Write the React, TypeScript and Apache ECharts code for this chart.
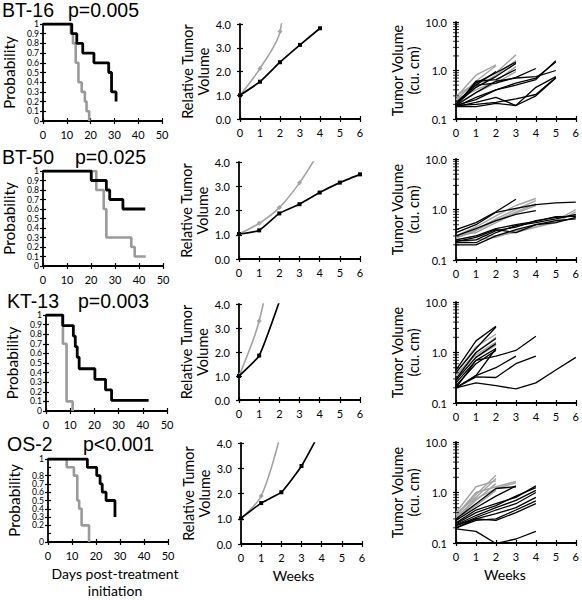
import React, { useEffect, useRef } from "react";
import * as echarts from "echarts";

// ---------------- Data ----------------
const panelNames = ["BT-16", "BT-50", "KT-13", "OS-2"];
const pValues = ["p=0.005", "p=0.025", "p=0.003", "p<0.001"];

// Kaplan-Meier step points [day, probability]
const bt16SurvTreated = [[0, 1], [12.1, 0.9], [14.2, 0.8], [16.7, 0.7], [21.4, 0.6], [27.6, 0.5], [28.8, 0.3], [30.7, 0.2]];
const bt16SurvControl = [[0, 1], [11.7, 0.9], [12.6, 0.8], [13.75, 0.6], [14.9, 0.4], [16.25, 0.3], [17.6, 0.2], [18.3, 0.1], [19.4, 0]];
const bt50SurvTreated = [[0, 1], [20.1, 0.9], [26.4, 0.8], [27.8, 0.7], [33.3, 0.6], [42.6, 0.6]];
const bt50SurvControl = [[0, 1], [22.2, 0.8], [25.3, 0.6], [26.4, 0.3], [36.8, 0.2], [38.2, 0.1], [42.8, 0.1]];
const kt13SurvTreated = [[0, 1], [6.9, 0.89], [11.3, 0.78], [12.1, 0.67], [12.9, 0.56], [13.7, 0.44], [20.2, 0.33], [24.6, 0.22], [27.1, 0.11], [42.4, 0.11]];
const kt13SurvControl = [[0, 1], [7.0, 0.7], [8.5, 0.1], [11.0, 0]];
const os2SurvTreated = [[0, 1], [16.4, 0.9], [20.3, 0.8], [21.7, 0.7], [22.6, 0.6], [24.2, 0.5], [27.9, 0.3]];
const os2SurvControl = [[0, 1], [7.8, 0.9], [10.8, 0.8], [12.2, 0.5], [13.0, 0.4], [14.0, 0.2], [17.1, 0]];

// Relative tumor volume by week (index = week)
const bt16RelTreated = [1.0, 1.57, 2.39, 3.12, 3.82];
const bt16RelControl = [1.0, 2.13, 3.68, 10.5];
const bt50RelTreated = [1.03, 1.18, 1.88, 2.26, 2.74, 3.15, 3.49];
const bt50RelControl = [1.03, 1.47, 2.12, 3.14, 4.45];
const kt13RelTreated = [1.0, 1.85, 4.1];
const kt13RelControl = [1.0, 3.29, 7.5];
const os2RelTreated = [1.02, 1.62, 2.05, 3.09, 4.56];
const os2RelControl = [1.02, 1.9, 4.46];

// Individual tumor volumes (cu. cm) by week (index = week)
const bt16VolControl = [
  [0.28, 0.8, 1.3],
  [0.25, 0.6, 1.25],
  [0.3, 0.55, 0.9, 2.1],
  [0.22, 0.45, 0.8, 1.6],
  [0.25, 0.4, 0.6, 1.2],
  [0.2, 0.35, 0.55, 0.95],
];
const bt16VolTreated = [
  [0.22, 0.5, 0.95],
  [0.2, 0.55, 0.9, 1.5],
  [0.2, 0.45, 0.75, 1.4],
  [0.19, 0.6, 0.65, 1.05],
  [0.2, 0.5, 0.55, 0.72, 1.1],
  [0.19, 0.35, 0.6, 0.7, 0.75, 1.0],
  [0.18, 0.28, 0.4, 0.55, 0.7, 1.5],
  [0.19, 0.25, 0.4, 0.5, 0.65, 1.6],
  [0.18, 0.22, 0.28, 0.19, 0.3, 0.7],
  [0.18, 0.18, 0.21, 0.19, 0.45, 0.75],
  [0.19, 0.2, 0.22, 0.26, 0.32, 0.72],
];
const bt50VolControl = [
  [0.3, 0.45, 0.75, 1.2, 1.65],
  [0.28, 0.4, 0.65, 1.0, 1.5],
  [0.27, 0.38, 0.6, 0.9, 1.3],
  [0.3, 0.35, 0.55, 0.85, 1.2],
  [0.25, 0.3, 0.3, 0.35, 0.45, 0.6, 1.0],
  [0.22, 0.25, 0.28, 0.38, 0.45, 0.55, 0.9],
];
const bt50VolTreated = [
  [0.4, 0.55, 0.9, 1.6],
  [0.35, 0.5, 0.88, 1.05, 1.25, 1.35, 1.4],
  [0.3, 0.42, 0.6, 0.8, 0.95],
  [0.24, 0.25, 0.38, 0.45, 0.6, 0.7, 0.75],
  [0.22, 0.22, 0.35, 0.48, 0.55, 0.65, 0.8],
  [0.2, 0.2, 0.3, 0.4, 0.5, 0.55, 0.7],
  [0.23, 0.28, 0.4, 0.35, 0.5, 0.6, 0.65],
  [0.25, 0.3, 0.42, 0.5, 0.58, 0.72, 0.73],
];
const kt13VolControl = [
  [0.4, 1.3, 2.3],
  [0.35, 1.0, 2.0],
  [0.35, 0.9, 1.6],
  [0.3, 0.8, 1.4],
];
const kt13VolTreated = [
  [0.45, 1.7, 3.3],
  [0.4, 1.2, 3.2],
  [0.3, 1.0, 1.9],
  [0.28, 0.8, 1.5],
  [0.25, 0.7, 1.2],
  [0.22, 0.6, 1.1],
  [0.2, 0.35, 1.2],
  [0.2, 0.7, 0.85, 1.1, 2.1],
  [0.2, 0.35, 0.5, 0.85],
  [0.2, 0.33, 0.32, 0.6, 0.85],
  [0.2, 0.25, 0.22, 0.19, 0.25, 0.45, 0.8],
];
const os2VolControl = [
  [0.4, 1.3, 1.7],
  [0.35, 0.9, 2.2],
  [0.38, 0.8, 1.9],
  [0.3, 0.7, 1.5],
  [0.3, 0.55, 1.1],
  [0.35, 1.0, 1.3, 1.65],
  [0.32, 0.75, 1.2, 1.55],
];
const os2VolTreated = [
  [0.3, 0.6, 1.2, 1.3],
  [0.28, 0.5, 0.85, 1.35],
  [0.25, 0.45, 0.6, 0.8, 1.35],
  [0.24, 0.4, 0.55, 0.85, 1.25],
  [0.23, 0.35, 0.5, 0.7, 1.1],
  [0.22, 0.32, 0.45, 0.6, 1.0],
  [0.22, 0.3, 0.38, 0.5, 0.8],
  [0.2, 0.28, 0.3, 0.45, 0.68],
  [0.2, 0.3, 0.28, 0.4, 0.6],
  [0.19, 0.17, 0.098, 0.12, 0.17],
];

const survTreated = [bt16SurvTreated, bt50SurvTreated, kt13SurvTreated, os2SurvTreated];
const survControl = [bt16SurvControl, bt50SurvControl, kt13SurvControl, os2SurvControl];
const relTreated = [bt16RelTreated, bt50RelTreated, kt13RelTreated, os2RelTreated];
const relControl = [bt16RelControl, bt50RelControl, kt13RelControl, os2RelControl];
const volTreated = [bt16VolTreated, bt50VolTreated, kt13VolTreated, os2VolTreated];
const volControl = [bt16VolControl, bt50VolControl, kt13VolControl, os2VolControl];

const logMinorTicks = [0.2, 0.3, 0.4, 0.5, 0.6, 0.7, 0.8, 0.9, 2, 3, 4, 5, 6, 7, 8, 9];

// ---------------- Layout ----------------
type Box = { left: number; top: number; width: number; height: number };
const survBoxes: Box[] = [
  { left: 42, top: 24, width: 120, height: 97 },
  { left: 43, top: 171, width: 120, height: 95 },
  { left: 46, top: 315, width: 121, height: 96 },
  { left: 48, top: 459, width: 120, height: 89 },
];
const relBoxes: Box[] = [
  { left: 240, top: 24, width: 120, height: 95 },
  { left: 239, top: 162, width: 121, height: 97 },
  { left: 239, top: 304, width: 121, height: 96 },
  { left: 241, top: 443, width: 121, height: 101 },
];
const volBoxes: Box[] = [
  { left: 456, top: 22, width: 121, height: 97 },
  { left: 456, top: 159, width: 121, height: 101 },
  { left: 456, top: 302, width: 121, height: 101 },
  { left: 456, top: 442, width: 122, height: 101 },
];
const titleRows = [
  { y: 9.5, nameX: 2, pX: 68 },
  { y: 156.8, nameX: 2, pX: 75 },
  { y: 300.8, nameX: 7, pX: 78 },
  { y: 443.5, nameX: 7, pX: 83 },
];

const FONT = "Lato, 'Open Sans', sans-serif";
const TITLE_FONT = "'Liberation Sans', Arial, sans-serif";
const BLACK = "#000";
const GREY_SURV = "#9a9a9a";
const GREY_LINE = "#a3a3a3";

function buildOption() {
  const grid: any[] = [];
  const xAxis: any[] = [];
  const yAxis: any[] = [];
  const series: any[] = [];
  const graphic: any[] = [];

  const tickStyle = { color: BLACK, width: 1.2 };

  function addGrid(box: Box, xCfg: any, yCfg: any, xExtra: any, yExtra: any, labelSize: number, yLabel: any) {
    const gi = grid.length;
    grid.push({ ...box });
    const xi = xAxis.length;
    xAxis.push({
      gridIndex: gi, position: "bottom", ...xCfg,
      axisLine: { show: true, lineStyle: { color: BLACK, width: 1.8 } },
      axisTick: { show: true, inside: false, length: 3, lineStyle: tickStyle },
      axisLabel: { color: BLACK, fontFamily: FONT, fontSize: labelSize, margin: 8, showMinLabel: true, showMaxLabel: true },
      splitLine: { show: false },
      ...xExtra,
    });
    xAxis.push({
      gridIndex: gi, position: "bottom", ...xCfg,
      axisLine: { show: false },
      axisTick: { show: true, inside: true, length: 3, lineStyle: tickStyle },
      axisLabel: { show: false },
      splitLine: { show: false },
    });
    const yi = yAxis.length;
    yAxis.push({
      gridIndex: gi, position: "left", ...yCfg,
      axisLine: { show: true, lineStyle: { color: BLACK, width: 1.8 } },
      axisTick: { show: true, inside: false, length: 3, lineStyle: tickStyle },
      splitLine: { show: false },
      ...yExtra,
      axisLabel: { color: BLACK, fontFamily: FONT, showMinLabel: true, showMaxLabel: true, hideOverlap: false, interval: 0, ...yLabel },
    });
    yAxis.push({
      gridIndex: gi, position: "left", ...yCfg,
      axisLine: { show: false },
      axisTick: { show: true, inside: true, length: 3, lineStyle: tickStyle },
      axisLabel: { show: false },
      splitLine: { show: false },
    });
    return { xi, yi };
  }

  for (let r = 0; r < 4; r++) {
    const last = r === 3;
    // ---- Survival ----
    const s = addGrid(
      survBoxes[r],
      { type: "value", min: 0, max: 50, interval: 10 },
      { type: "value", min: 0, max: 1, interval: 0.1 },
      last
        ? {
            name: "Days post-treatment\ninitiation",
            nameLocation: "middle",
            nameGap: 23,
            nameTextStyle: { color: BLACK, fontFamily: FONT, fontSize: 14, lineHeight: 17, padding: [0, 0, 0, 14], verticalAlign: "top" },
          }
        : {},
      {
        name: "Probability",
        nameLocation: "middle",
        nameGap: 26,
        nameTextStyle: { color: BLACK, fontFamily: FONT, fontSize: 15.5 },
      },
      11,
      {
        fontSize: 8.6,
        lineHeight: 8,
        margin: 4,
        formatter: (v: number) => String(Math.round(v * 10) / 10),
      }
    );
    series.push({
      type: "line", xAxisIndex: s.xi, yAxisIndex: s.yi, step: "end",
      data: survControl[r], showSymbol: false, symbol: "none",
      lineStyle: { color: GREY_SURV, width: 2.6 }, z: 2,
    });
    series.push({
      type: "line", xAxisIndex: s.xi, yAxisIndex: s.yi, step: "end",
      data: survTreated[r], showSymbol: false, symbol: "none",
      lineStyle: { color: BLACK, width: 2.8 }, z: 3,
    });

    // ---- Relative tumor volume ----
    const rv = addGrid(
      relBoxes[r],
      { type: "value", min: 0, max: 6, interval: 1 },
      { type: "value", min: 0, max: 4, interval: 1 },
      last
        ? {
            name: "Weeks",
            nameLocation: "middle",
            nameGap: 24,
            nameTextStyle: { color: BLACK, fontFamily: FONT, fontSize: 14, padding: [0, 16, 0, 0], verticalAlign: "top" },
          }
        : {},
      {
        name: "Relative Tumor\nVolume",
        nameLocation: "middle",
        nameGap: 29,
        nameTextStyle: { color: BLACK, fontFamily: FONT, fontSize: 14.5, lineHeight: 16 },
      },
      11,
      { fontSize: 11, margin: 9, formatter: (v: number) => v.toFixed(1) }
    );
    series.push({
      type: "line", xAxisIndex: rv.xi, yAxisIndex: rv.yi, smooth: 0.3, clip: true,
      data: relControl[r].map((v, i) => [i, v]),
      symbol: "diamond", symbolSize: 5, showSymbol: true,
      itemStyle: { color: GREY_LINE }, lineStyle: { color: GREY_LINE, width: 1.6 }, z: 2,
    });
    series.push({
      type: "line", xAxisIndex: rv.xi, yAxisIndex: rv.yi, smooth: 0.15, clip: true,
      data: relTreated[r].map((v, i) => [i, v]),
      symbol: "rect", symbolSize: 4, showSymbol: true,
      itemStyle: { color: BLACK }, lineStyle: { color: BLACK, width: 1.7 }, z: 3,
    });

    // ---- Tumor volume (log) ----
    const tv = addGrid(
      volBoxes[r],
      { type: "value", min: 0, max: 6, interval: 1 },
      { type: "log", min: 0.1, max: 10, logBase: 10 },
      last
        ? {
            name: "Weeks",
            nameLocation: "middle",
            nameGap: 24,
            nameTextStyle: { color: BLACK, fontFamily: FONT, fontSize: 14, padding: [0, 22, 0, 0], verticalAlign: "top" },
          }
        : {},
      {
        name: "Tumor Volume\n(cu. cm)",
        nameLocation: "middle",
        nameGap: 35,
        nameTextStyle: { color: BLACK, fontFamily: FONT, fontSize: 14.5, lineHeight: 16 },
      },
      11,
      { fontSize: 11, margin: 9, formatter: (v: number) => v.toFixed(1) }
    );
    volControl[r].forEach((vals) => {
      series.push({
        type: "line", xAxisIndex: tv.xi, yAxisIndex: tv.yi, clip: true,
        data: vals.map((v, i) => [i, v]), symbol: "none", showSymbol: false,
        lineStyle: { color: GREY_LINE, width: 1.4 }, z: 2,
      });
    });
    volTreated[r].forEach((vals) => {
      series.push({
        type: "line", xAxisIndex: tv.xi, yAxisIndex: tv.yi, clip: true,
        data: vals.map((v, i) => [i, v]), symbol: "none", showSymbol: false,
        lineStyle: { color: BLACK, width: 1.3 }, z: 3,
      });
    });
    series.push({
      type: "scatter", xAxisIndex: tv.xi, yAxisIndex: tv.yi, clip: false, silent: true,
      data: logMinorTicks.map((v) => [0, v]), symbol: "rect", symbolSize: [6, 1],
      itemStyle: { color: BLACK }, z: 4,
    });

    // ---- Titles ----
    graphic.push({
      type: "text", x: titleRows[r].nameX, y: titleRows[r].y,
      style: { text: panelNames[r], fill: BLACK, fontFamily: TITLE_FONT, fontSize: 19.5, lineHeight: 15, verticalAlign: "middle" },
    });
    graphic.push({
      type: "text", x: titleRows[r].pX, y: titleRows[r].y,
      style: { text: pValues[r], fill: BLACK, fontFamily: TITLE_FONT, fontSize: 19.5, lineHeight: 15, verticalAlign: "middle" },
    });
  }

  return {
    animation: false,
    backgroundColor: "#fff",
    grid,
    xAxis,
    yAxis,
    series,
    graphic,
  };
}

export default function App() {
  const ref = useRef<HTMLDivElement>(null);
  useEffect(() => {
    document.body.style.margin = "0";
    if (!ref.current) return;
    const chart = echarts.init(ref.current, undefined, { renderer: "svg" });
    chart.setOption(buildOption() as any);
    return () => chart.dispose();
  }, []);
  return <div ref={ref} style={{ width: 582, height: 600 }} />;
}
